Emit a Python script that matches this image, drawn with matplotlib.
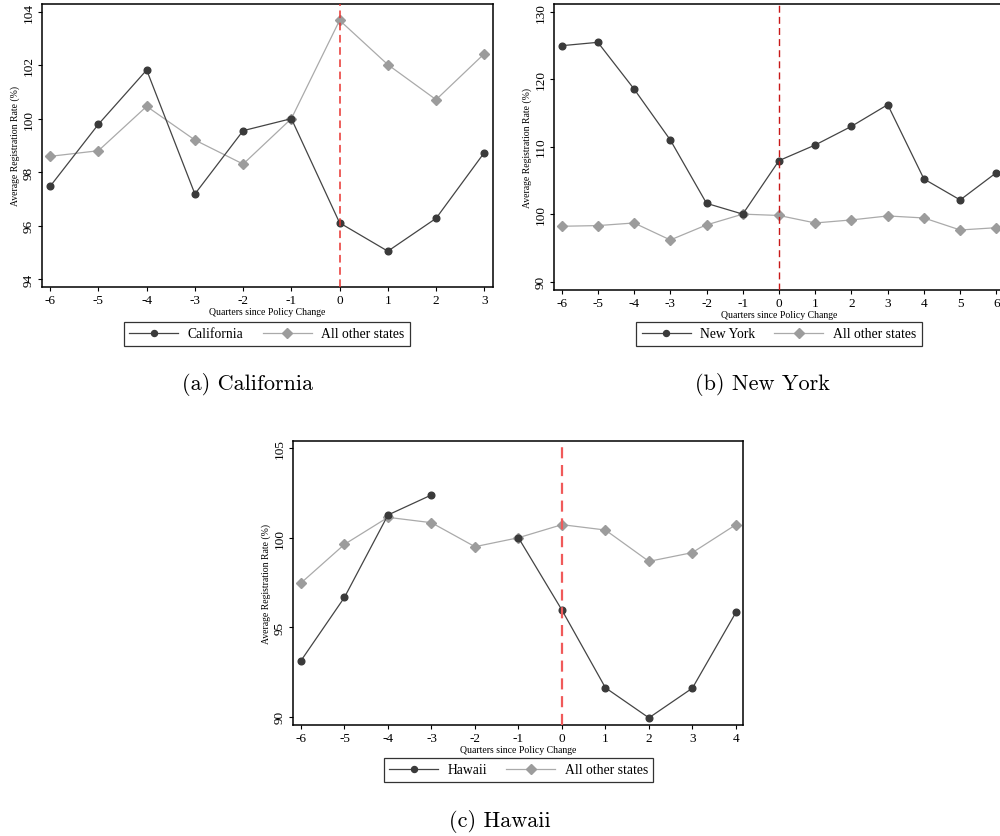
import numpy as np
import matplotlib
matplotlib.use("Agg")
import matplotlib.pyplot as plt

plt.rcParams["font.family"] = ["Liberation Serif", "DejaVu Serif"]
plt.rcParams["axes.unicode_minus"] = False

# data
ca_q = [-6, -5, -4, -3, -2, -1, 0, 1, 2, 3]
ca_state = [97.47, 99.79, 101.82, 97.18, 99.55, 100.0, 96.1, 95.04, 96.27, 98.73]
ca_other = [98.59, 98.8, 100.46, 99.2, 98.3, 100.0, 103.68, 102.02, 100.71, 102.43]

ny_q = [-6, -5, -4, -3, -2, -1, 0, 1, 2, 3, 4, 5, 6]
ny_state = [124.96, 125.46, 118.54, 110.99, 101.6, 100.0, 107.93, 110.25, 113.01,
            116.22, 105.21, 102.1, 106.15]
ny_other = [98.2, 98.3, 98.69, 96.17, 98.4, 100.0, 99.8, 98.69, 99.14, 99.73,
            99.43, 97.65, 97.99]

hi_q = [-6, -5, -4, -3, -2, -1, 0, 1, 2, 3, 4]
hi_state = [93.13, 96.67, 101.27, 102.39, np.nan, 100.0, 95.96, 91.62, 89.94, 91.6, 95.83]
hi_other = [97.47, 99.63, 101.14, 100.84, 99.5, 100.0, 100.73, 100.43, 98.68, 99.17, 100.73]

W, H = 1000, 837
fig = plt.figure(figsize=(W / 100, H / 100), dpi=100)


def px_axes(left, right, top, bottom):
    return fig.add_axes([left / W, (H - bottom) / H, (right - left) / W, (bottom - top) / H])


def panel(ax, q, state, other, name, yticks, ylim, xlim, vcol, vlw, leg_xy):
    ax.plot(q, state, "-o", color="#444444", mfc="#3a3a3a", mec="#3a3a3a",
            lw=0.9, ms=4.8, label=name, zorder=3)
    ax.plot(q, other, "-D", color="#aaaaaa", mfc="#9c9c9c", mec="#9c9c9c",
            lw=0.9, ms=5.5, label="All other states", zorder=2)
    ax.axvline(0, color=vcol, ls=(0, (5, 3)), lw=vlw, zorder=4)
    ax.set_xlim(xlim)
    ax.set_ylim(ylim)
    ax.set_xticks(q)
    ax.set_yticks(yticks)
    ax.set_yticklabels([str(t) for t in yticks], rotation=90, va="center")
    ax.tick_params(direction="out", length=3, width=0.8, labelsize=9.5, pad=2)
    for s in ax.spines.values():
        s.set_linewidth(1.1)
    ax.set_xlabel("Quarters since Policy Change", fontsize=7, labelpad=1)
    ax.set_ylabel("Average Registration Rate (%)", fontsize=7, labelpad=2)
    ax.legend(loc="center", bbox_to_anchor=(leg_xy[0] / W, 1 - leg_xy[1] / H),
              bbox_transform=fig.transFigure, ncol=2, frameon=True, fancybox=False,
              edgecolor="black", fontsize=9.8, handlelength=3.6, columnspacing=1.4,
              borderpad=0.4, handletextpad=0.7, markerscale=0.9)
    ax.get_legend().get_frame().set_linewidth(0.9)


ax1 = px_axes(42, 493, 5, 288)
panel(ax1, ca_q, ca_state, ca_other, "California", [94, 96, 98, 100, 102, 104],
      (93.7, 104.29), (-6.17, 3.18), "#e8332f", 1.1, (267, 335))

ax2 = px_axes(554, 1004, 5, 290.7)
panel(ax2, ny_q, ny_state, ny_other, "New York", [90, 100, 110, 120, 130],
      (88.8, 131.14), (-6.21, 6.21), "#c81818", 1.0, (779, 335))

ax3 = px_axes(292.7, 743.3, 441.7, 726)
panel(ax3, hi_q, hi_state, hi_other, "Hawaii", [90, 95, 100, 105],
      (89.54, 105.42), (-6.19, 4.17), "#f05a5a", 1.6, (518.5, 771))

cap = dict(family="cmr10", fontsize=16, ha="center", va="center")
fig.text(248 / W, 1 - 385 / H, "(a) California", **cap)
fig.text(762 / W, 1 - 385 / H, "(b) New York", **cap)
fig.text(500 / W, 1 - 822 / H, "(c) Hawaii", **cap)

fig.savefig("out.png", dpi=100)
